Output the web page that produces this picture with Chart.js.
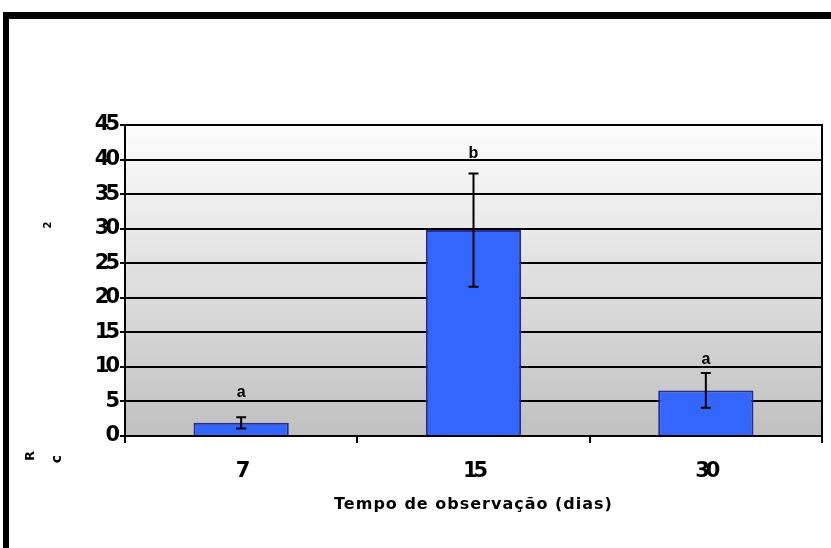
<!DOCTYPE html>
<html><head><meta charset="utf-8">
<script src="https://cdn.jsdelivr.net/npm/chart.js@4.4.1/dist/chart.umd.min.js"></script>
<style>
html,body{margin:0;padding:0;background:#fff;width:831px;height:548px;overflow:hidden;position:relative}
#c{position:absolute;left:0;top:0}
#frame{position:absolute;left:3px;top:12px;width:900px;height:600px;border-top:7px solid #000;border-left:6px solid #000;pointer-events:none}
.frag{position:absolute;font:bold 14px "DejaVu Sans",sans-serif;color:#000;transform:translate(-50%,-50%) rotate(-90deg);white-space:nowrap;line-height:1}
</style></head><body>
<canvas id="c" width="831" height="548"></canvas>
<div id="frame"></div>
<span class="frag" style="left:48px;top:225px;font-size:10px">2</span>
<span class="frag" style="left:29px;top:456px;font-size:13px">R</span>
<span class="frag" style="left:56px;top:459px;font-size:14px">c</span>
<script>
const categories = ['7', '15', '30'];
const means = [1.9, 29.8, 6.6];
const errors = [0.8, 8.2, 2.5];
const letters = ['a', 'b', 'a'];
const letterAt = [6.3, 40.9, 11.0];
const yTicks = [0, 5, 10, 15, 20, 25, 30, 35, 40, 45];
const xTitle = 'Tempo de observação (dias)';

const custom = {
  id: 'custom',
  beforeDraw(chart) {
    const {ctx, chartArea: a} = chart;
    const g = ctx.createLinearGradient(0, a.top, 0, a.bottom);
    g.addColorStop(0, '#fdfdfd');
    g.addColorStop(1, '#c0c0c0');
    ctx.save();
    ctx.fillStyle = g;
    ctx.fillRect(a.left, a.top, a.right - a.left, a.bottom - a.top);
    ctx.restore();
    ctx.letterSpacing = '1px';
  },
  beforeDatasetsDraw(chart) { chart.ctx.letterSpacing = '0px'; },
  afterDatasetsDraw(chart) {
    const ctx = chart.ctx, y = chart.scales.y, meta = chart.getDatasetMeta(0);
    ctx.save();
    ctx.strokeStyle = '#000';
    ctx.lineWidth = 2;
    meta.data.forEach((bar, i) => {
      const x = bar.x;
      const t = y.getPixelForValue(means[i] + errors[i]);
      const b = y.getPixelForValue(means[i] - errors[i]);
      ctx.beginPath();
      ctx.moveTo(x, t); ctx.lineTo(x, b);
      ctx.moveTo(x - 5, t); ctx.lineTo(x + 5, t);
      ctx.moveTo(x - 5, b); ctx.lineTo(x + 5, b);
      ctx.stroke();
    });
    ctx.fillStyle = '#000';
    ctx.font = 'bold 16px "Liberation Sans", Arial, sans-serif';
    ctx.textAlign = 'center';
    ctx.textBaseline = 'middle';
    meta.data.forEach((bar, i) => ctx.fillText(letters[i], bar.x, y.getPixelForValue(letterAt[i])));
    ctx.restore();
    ctx.letterSpacing = '-4px';
  },
  afterDraw(chart) { chart.ctx.letterSpacing = '0px'; }
};

const tickFont = {family: '"DejaVu Sans", sans-serif', weight: 'bold', size: 21};

new Chart(document.getElementById('c'), {
  type: 'bar',
  data: {
    labels: categories,
    datasets: [{
      data: means,
      backgroundColor: '#3366ff',
      borderColor: '#2b2b8c',
      borderWidth: 2,
      barPercentage: 0.41,
      categoryPercentage: 1
    }]
  },
  options: {
    responsive: false,
    devicePixelRatio: 1,
    animation: false,
    layout: {padding: {left: 0, top: 125, right: 9, bottom: 0}},
    plugins: {legend: {display: false}, tooltip: {enabled: false}},
    scales: {
      x: {
        offset: true,
        grid: {display: true, drawOnChartArea: false, drawTicks: true, tickLength: 7, color: '#000', lineWidth: 2, offset: true},
        border: {display: true, color: '#000', width: 2, z: 1},
        ticks: {z: 1, color: '#000', font: tickFont, padding: 16, maxRotation: 0},
        title: {display: true, text: xTitle, color: '#000',
          font: {family: '"DejaVu Sans", sans-serif', weight: 'bold', size: 16},
          padding: {top: 0, bottom: 34}},
        afterFit(s) { s.height = 112; }
      },
      y: {
        min: 0, max: 45,
        afterBuildTicks(s) { s.ticks = yTicks.map(v => ({value: v})); },
        grid: {color: '#000', lineWidth: 2, tickLength: 5, drawTicks: true},
        border: {display: true, color: '#000', width: 2, z: 1},
        ticks: {z: 1, color: '#000', font: tickFont, padding: 4},
        afterFit(s) { s.width = 125; }
      },
      y2: {
        type: 'linear', position: 'right', display: true,
        grid: {display: false, drawTicks: false},
        ticks: {display: false},
        border: {display: true, color: '#000', width: 2, z: 1},
        afterFit(s) { s.width = 0; }
      }
    }
  },
  plugins: [custom]
});
</script>
</body></html>
